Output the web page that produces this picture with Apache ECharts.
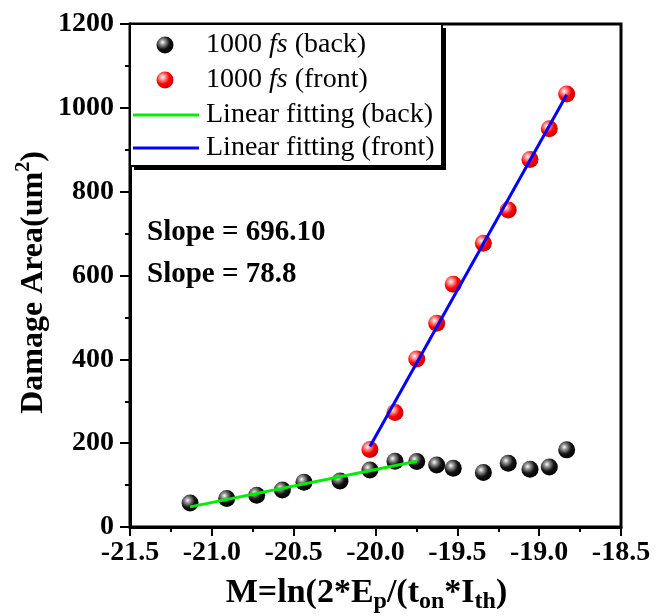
<!DOCTYPE html>
<html>
<head>
<meta charset="utf-8">
<script src="https://cdn.jsdelivr.net/npm/echarts@6/dist/echarts.min.js"></script>
<style>
  html, body { margin: 0; padding: 0; background: #fff; }
  #chart { width: 665px; height: 616px; }
</style>
</head>
<body>
<div id="chart"></div>
<script>
// Measured damage area versus M for 1000 fs pulses
const xBack = [-21.133, -20.909, -20.726, -20.569, -20.437, -20.217, -20.034, -19.881,
               -19.748, -19.626, -19.525, -19.341, -19.189, -19.056, -18.938, -18.832];
const areaBack = [57, 68, 76, 88, 107, 110, 136, 157, 156, 148, 140, 130, 152, 138, 143, 184];

const xFront = [-20.034, -19.881, -19.748, -19.626, -19.525, -19.341, -19.189, -19.056, -18.938, -18.832];
const areaFront = [185, 273, 401, 486, 579, 677, 756, 877, 950, 1033];

// Linear fit end points
const fitBackX = [-21.133, -19.748];
const fitBackY = [48, 157];
const fitFrontX = [-20.034, -18.832];
const fitFrontY = [192, 1031];

const slopeFront = '696.10';
const slopeBack = '78.8';

const xTicks = { min: -21.5, max: -18.5, step: 0.5 };
const yTicks = { min: 0, max: 1200, step: 200 };

const FONT = '"Liberation Serif", "Times New Roman", serif';

const pairs = (xs, ys) => xs.map((x, i) => [x, ys[i]]);

function sphere(base, mid, edge) {
  return new echarts.graphic.RadialGradient(0.36, 0.34, 0.68, [
    { offset: 0, color: '#ffffff' },
    { offset: 0.22, color: mid },
    { offset: 0.6, color: base },
    { offset: 1, color: edge }
  ]);
}
const blackBall = () => sphere('#141414', '#9a9a9a', '#000000');
const redBall = () => sphere('#ff0000', '#ff9a9a', '#c80000');

const chart = echarts.init(document.getElementById('chart'), null, { renderer: 'canvas' });

const legendRows = [
  { y: 45, kind: 'ball', ball: blackBall, label: '{a|1000 }{i|fs}{a| (back)}' },
  { y: 80, kind: 'ball', ball: redBall, label: '{a|1000 }{i|fs}{a| (front)}' },
  { y: 115, kind: 'line', color: '#00ee00', label: '{a|Linear fitting (back)}' },
  { y: 148, kind: 'line', color: '#0000ff', label: '{a|Linear fitting (front)}' }
];

const legendRich = {
  a: { fontFamily: FONT, fontSize: 28, fontWeight: 'normal', color: '#000' },
  i: { fontFamily: FONT, fontSize: 28, fontWeight: 'normal', fontStyle: 'italic', color: '#000' }
};

const legendGraphics = [
  { type: 'rect', z: 100, shape: { x: 134, y: 28, width: 312, height: 142 }, style: { fill: '#000' }, silent: true },
  { type: 'rect', z: 101, shape: { x: 130, y: 24, width: 312, height: 142 },
    style: { fill: '#fff', stroke: '#000', lineWidth: 2 }, silent: true }
];
legendRows.forEach(r => {
  if (r.kind === 'ball') {
    legendGraphics.push({ type: 'circle', z: 102, shape: { cx: 165, cy: r.y, r: 8.5 },
      style: { fill: r.ball() }, silent: true });
  } else {
    legendGraphics.push({ type: 'line', z: 102, shape: { x1: 133, y1: r.y, x2: 199, y2: r.y },
      style: { stroke: r.color, lineWidth: 3 }, silent: true });
  }
  legendGraphics.push({ type: 'text', z: 102, x: 206, y: r.y, silent: true,
    style: { text: r.label, rich: legendRich, verticalAlign: 'middle', align: 'left' } });
});

const slopeStyle = { fontFamily: FONT, fontSize: 29, fontWeight: 'bold', fill: '#000', verticalAlign: 'middle' };

const option = {
  animation: false,
  backgroundColor: '#fff',
  grid: {
    left: 130, right: 44, top: 24, bottom: 89,
    outerBoundsMode: 'none',
    show: true, borderColor: '#000', borderWidth: 3, backgroundColor: 'transparent'
  },
  xAxis: {
    type: 'value',
    min: xTicks.min, max: xTicks.max, interval: xTicks.step,
    axisLine: { show: true, onZero: false, lineStyle: { color: '#000', width: 3 } },
    axisTick: { show: true, inside: false, length: 9, lineStyle: { color: '#000', width: 2 } },
    minorTick: { show: true, splitNumber: 2, length: 5, lineStyle: { color: '#000', width: 2 } },
    splitLine: { show: false },
    axisLabel: {
      margin: 12, fontFamily: FONT, fontSize: 28, fontWeight: 'bold', color: '#000', lineHeight: 28,
      formatter: v => (+v).toFixed(1)
    },
    name: 'M=ln(2*E{s|p}/(t{s|on}*I{s|th})',
    nameLocation: 'middle',
    nameGap: 45,
    nameMoveOverlap: false,
    nameTextStyle: {
      fontFamily: FONT, fontSize: 34, fontWeight: 'bold', color: '#000', lineHeight: 42,
      padding: [0, 18, 0, 0],
      rich: {
        s: { fontFamily: FONT, fontSize: 24, fontWeight: 'bold', color: '#000', lineHeight: 42, verticalAlign: 'bottom' }
      }
    }
  },
  yAxis: {
    type: 'value',
    min: yTicks.min, max: yTicks.max, interval: yTicks.step,
    axisLine: { show: true, onZero: false, lineStyle: { color: '#000', width: 3 } },
    axisTick: { show: true, inside: false, length: 10, lineStyle: { color: '#000', width: 2 } },
    minorTick: { show: true, splitNumber: 2, length: 5, lineStyle: { color: '#000', width: 2 } },
    splitLine: { show: false },
    axisLabel: {
      margin: 16, fontFamily: FONT, fontSize: 28, fontWeight: 'bold', color: '#000', lineHeight: 28,
      formatter: v => String(v)
    },
    name: 'Damage Area(um{p|2})',
    nameLocation: 'middle',
    nameGap: 76,
    nameMoveOverlap: false,
    nameTextStyle: {
      fontFamily: FONT, fontSize: 32, fontWeight: 'bold', color: '#000', lineHeight: 40,
      padding: [0, 14, 0, 0],
      rich: {
        p: { fontFamily: FONT, fontSize: 20, fontWeight: 'bold', color: '#000', lineHeight: 40, verticalAlign: 'top', padding: [0, 0, 12, 0] }
      }
    }
  },
  series: [
    {
      name: '1000 fs (back)', type: 'scatter', z: 2,
      data: pairs(xBack, areaBack), symbol: 'circle', symbolSize: 17,
      itemStyle: { color: blackBall(), opacity: 1 }
    },
    {
      name: '1000 fs (front)', type: 'scatter', z: 2,
      data: pairs(xFront, areaFront), symbol: 'circle', symbolSize: 17,
      itemStyle: { color: redBall(), opacity: 1 }
    },
    {
      name: 'Linear fitting (back)', type: 'line', z: 3,
      data: pairs(fitBackX, fitBackY), symbol: 'none',
      lineStyle: { color: '#00ee00', width: 3 }
    },
    {
      name: 'Linear fitting (front)', type: 'line', z: 3,
      data: pairs(fitFrontX, fitFrontY), symbol: 'none',
      lineStyle: { color: '#0000ff', width: 3 }
    }
  ],
  graphic: legendGraphics.concat([
    { type: 'text', x: 147, y: 233, silent: true, style: Object.assign({ text: 'Slope = ' + slopeFront }, slopeStyle) },
    { type: 'text', x: 147, y: 275, silent: true, style: Object.assign({ text: 'Slope = ' + slopeBack }, slopeStyle) }
  ])
};

chart.setOption(option);
</script>
</body>
</html>
